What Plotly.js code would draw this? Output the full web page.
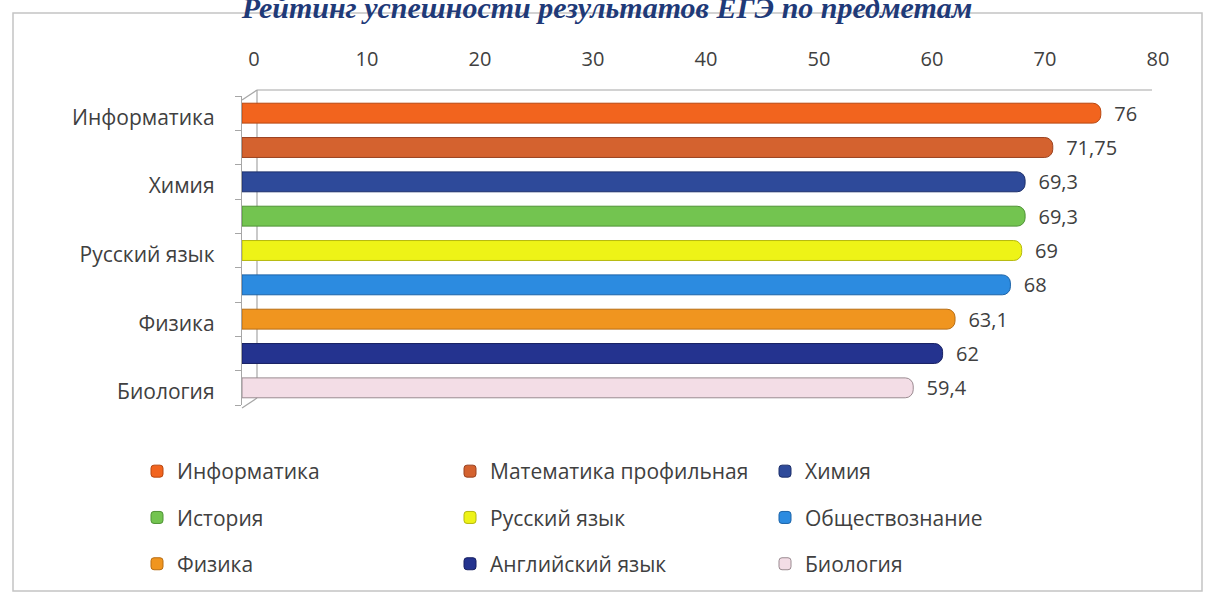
<!DOCTYPE html>
<html><head><meta charset="utf-8">
<script src="https://cdn.plot.ly/plotly-3.0.1.min.js"></script>
<style>html,body{margin:0;padding:0;background:#fff}</style>
</head><body><div id="chart" style="width:1214px;height:595px"></div>
<script>
const chartTitle = 'Рейтинг успешности результатов ЕГЭ по предметам';
const subjects = ['Информатика','Математика профильная','Химия','История','Русский язык','Обществознание','Физика','Английский язык','Биология'];
const scores = [76, 71.75, 69.3, 69.3, 69, 68, 63.1, 62, 59.4];
const axisLabels = ['Информатика','','Химия','','Русский язык','','Физика','','Биология'];
const xTicks = [0, 10, 20, 30, 40, 50, 60, 70, 80];

const colors = ['#F2641E','#D4622F','#2E4A9A','#73C450','#EEF317','#2C8BE0','#F0951F','#24338F','#F3DDE6'];
const edges  = ['#B8460F','#9A4220','#1C2F6A','#4E9234','#B5B80E','#1B63A8','#B86D12','#161F62','#9A8A90'];
const legendIds = ['legend','legend2','legend3'];
const txtColor = '#404040';
const font = 'Open Sans';

const traces = subjects.map((s, i) => ({
  type: 'bar', orientation: 'h',
  x: [scores[i]], y: [s], name: s,
  legend: legendIds[i % 3], legendgroup: s,
  width: 0.58,
  marker: {color: colors[i], line: {color: edges[i], width: 1}, cornerradius: 8},
  texttemplate: '\u00a0\u00a0%{x}', textposition: 'outside', cliponaxis: false, constraintext: 'none',
  textfont: {family: font, size: 20, color: txtColor},
  hoverinfo: 'x+name'
}));

const P = (px) => (px - 242) / 904;
const Q = (py) => (405 - py) / 309;
const frame = '#a6a6a6';
const shapes = [
  {type:'rect', xref:'paper', yref:'paper', x0:P(13), x1:P(1202), y0:Q(591), y1:Q(13), line:{color:'#c4c4c4', width:1.5}, layer:'below'},
  {type:'line', xref:'paper', yref:'paper', x0:P(257), x1:P(1152), y0:Q(90), y1:Q(90), line:{color:frame, width:1.2}, layer:'below'},
  {type:'line', xref:'paper', yref:'paper', x0:P(242), x1:P(257), y0:Q(100), y1:Q(90), line:{color:frame, width:1.2}, layer:'below'},
  {type:'line', xref:'paper', yref:'paper', x0:P(257), x1:P(257), y0:Q(90), y1:Q(398), line:{color:frame, width:1.2}, layer:'below'},
  {type:'line', xref:'paper', yref:'paper', x0:P(242), x1:P(257), y0:Q(408), y1:Q(398), line:{color:frame, width:1.2}, layer:'below'}
];

const legendBase = {orientation:'v', xanchor:'left', yanchor:'top', y: Q(451),
  font:{family:font, size:21, color:txtColor}, tracegroupgap:16, itemwidth:30, bgcolor:'rgba(0,0,0,0)'};

const layout = {
  width: 1214, height: 595,
  margin: {l:242, r:68, t:96, b:190, autoexpand:false},
  paper_bgcolor:'#fff', plot_bgcolor:'rgba(0,0,0,0)',
  separators: ', ',
  barmode: 'overlay',
  title: {text: chartTitle, xref:'container', x:0.5, xanchor:'center', yref:'container', y:0.987, yanchor:'middle',
    font:{family:'Liberation Serif', size:30, color:'#1F3A78', weight:'bold', style:'italic'}},
  xaxis: {side:'top', range:[0,80], tickvals:xTicks, showgrid:false, zeroline:false, showline:false,
    ticks:'', ticklabelshift:12, ticklabelstandoff:25, tickfont:{family:font, size:20, color:txtColor}, fixedrange:true},
  yaxis: {type:'category', categoryorder:'array', categoryarray:subjects, autorange:'reversed',
    tickvals:subjects, ticktext:axisLabels, ticks:'outside', tickson:'boundaries', ticklen:6, tickcolor:frame,
    showline:true, linecolor:frame, linewidth:1.2, showgrid:false, ticklabelstandoff:22, ticklabelshift:-4,
    tickfont:{family:font, size:21, color:txtColor}, fixedrange:true},
  legend:  Object.assign({}, legendBase, {x:P(137)}),
  legend2: Object.assign({}, legendBase, {x:P(450)}),
  legend3: Object.assign({}, legendBase, {x:P(765)}),
  shapes: shapes,
  showlegend: true
};

Plotly.newPlot('chart', traces, layout, {displayModeBar:false, staticPlot:true});
</script></body></html>
